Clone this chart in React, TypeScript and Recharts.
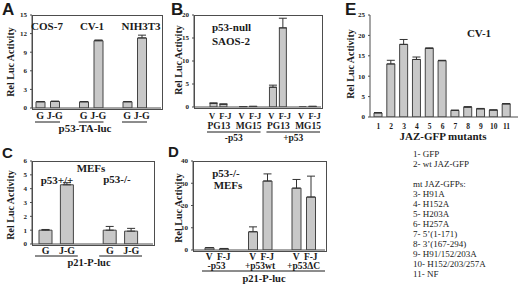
import { BarChart, Bar, XAxis, YAxis, ErrorBar } from 'recharts';

const SERIF = '"Liberation Serif", "Times New Roman", Times, serif';
const SANS = '"Liberation Sans", Arial, sans-serif';
const INK = '#1a1a1a';
const LINE = '#4d4d4d';
const BAR = '#c8c8c8';

// A - p53-TA-luc in three cell lines
const aCats = ['G', 'J-G', '', 'G', 'J-G', '', 'G', 'J-G'];
const aVals = [1.0, 1.05, null, 1.0, 10.85, null, 1.0, 11.3];
const aErrs = [0.05, 0.06, null, 0.04, 0.12, null, 0.05, 0.45];
const aTicks = [0, 3, 6, 9, 12, 15];

// B - SAOS-2, PG13 / MG15 reporters
const bCats = ['V', 'F-J', '', 'V', 'F-J', '', 'V', 'F-J', '', 'V', 'F-J'];
const bReporters = ['PG13', '', '', 'MG15', '', '', 'PG13', '', '', 'MG15', ''];
const bVals = [0.8, 0.6, null, 0.08, 0.12, null, 4.3, 17.2, null, 0.04, 0.12];
const bErrs = [0.08, 0.06, null, 0.02, 0.03, null, 0.45, 2.1, null, null, 0.03];
const bTicks = [0, 5, 10, 15, 20];

// C - MEFs p53+/+ vs p53-/-
const cCats = ['G', 'J-G', '', 'G', 'J-G'];
const cVals = [1.0, 4.28, null, 1.0, 0.93];
const cErrs = [0.05, 0.15, null, 0.27, 0.2];
const cTicks = [0, 1, 2, 3, 4, 5, 6];

// D - p53-/- MEFs, p21-P-luc
const dCats = ['V', 'F-J', '', 'V', 'F-J', '', 'V', 'F-J'];
const dVals = [1.0, 0.6, null, 8.2, 31.0, null, 27.8, 23.8];
const dErrs = [0.1, 0.1, null, 2.2, 3.2, null, 3.9, 9.4];
const dTicks = [0, 10, 20, 30, 40];

// E - JAZ-GFP mutants in CV-1
const eCats = ['1', '2', '3', '4', '5', '6', '7', '8', '9', '10', '11'];
const eVals = [1.0, 13.0, 17.8, 14.1, 16.8, 13.8, 1.6, 2.4, 2.0, 1.7, 3.2];
const eErrs = [0.1, 0.9, 1.2, 0.6, 0.15, 0.1, 0.1, 0.15, 0.1, 0.05, 0.1];
const eTicks = [0, 5, 10, 15, 20, 25];

const legendLines = [
  '1- GFP', '2- wt JAZ-GFP', 'mt JAZ-GFPs:', '3- H91A', '4- H152A', '5- H203A', '6- H257A',
  '7- 5\u2019(1-171)', '8- 3\u2019(167-294)', '9- H91/152/203A', '10- H152/203/257A', '11- NF',
];
const legendY = [157, 167, 187, 197, 207, 217, 227, 237, 247, 257, 267, 277];

type Group = { from: number; to: number; text?: string; textDy?: number; lineDy?: number; extR?: number };
type AxisCfg = {
  labels: string[];
  labelDy: number;
  fontSize: number;
  labelDx?: number[];
  row2?: string[];
  row2Dy?: number;
  groups?: Group[];
  inset?: number;
  band?: number;
};

const rows = (vals: (number | null)[], errs: (number | null)[]) =>
  vals.map((v, i) => ({ k: String(i), v, e: errs[i] == null ? null : [0, errs[i]] }));

function makeTick(cfg: AxisCfg) {
  return (props: any) => {
    const { x, y, payload } = props;
    const i = Number(payload.value);
    const band = cfg.band || 10;
    const txt = { fontFamily: SERIF, fontWeight: 700, fill: INK, textAnchor: 'middle' as const };
    const parts: any[] = [];
    if (cfg.labels[i]) {
      const dx = cfg.labelDx ? cfg.labelDx[i % cfg.labelDx.length] : 0;
      parts.push(<text key="l" x={x + dx} y={y + cfg.labelDy} fontSize={cfg.fontSize} {...txt}>{cfg.labels[i]}</text>);
    }
    if (cfg.row2 && cfg.row2[i]) {
      parts.push(<text key="r2" x={x + band / 2} y={y + (cfg.row2Dy || 0)} fontSize={9.5} {...txt}>{cfg.row2[i]}</text>);
    }
    (cfg.groups || []).forEach((g, gi) => {
      if (g.from !== i) return;
      const ins = cfg.inset || 0;
      const x0 = x - band / 2 + ins;
      const x1 = x + (g.to - g.from) * band + band / 2 - ins + (g.extR || 0);
      if (g.lineDy != null) {
        parts.push(<line key={'g' + gi} x1={x0} x2={x1} y1={y + g.lineDy} y2={y + g.lineDy} stroke={INK} strokeWidth={1} />);
      }
      if (g.text) {
        const cx = x + ((g.to - g.from) * band) / 2;
        parts.push(<text key={'t' + gi} x={cx} y={y + (g.textDy || 0)} fontSize={9.5} {...txt}>{g.text}</text>);
      }
    });
    return <g>{parts}</g>;
  };
}

type PanelProps = {
  left: number; top: number; width: number; height: number;
  margin: { top: number; right: number; bottom: number; left: number };
  yWidth: number; xHeight: number;
  data: any[]; ticks: number[]; barSize: number;
  pad: { left: number; right: number };
  box: boolean; tick: AxisCfg; yFont: number;
};

function Panel(p: PanelProps) {
  const max = p.ticks[p.ticks.length - 1];
  const plotL = p.margin.left + p.yWidth;
  const plotW = p.width - plotL - p.margin.right;
  const plotH = p.height - p.margin.top - p.margin.bottom - p.xHeight;
  const band = (plotW - p.pad.left - p.pad.right) / p.data.length;
  const cfg = { ...p.tick, band };
  return (
    <div style={{ position: 'absolute', left: p.left, top: p.top, width: p.width, height: p.height }}>
      <BarChart width={p.width} height={p.height} data={p.data} margin={p.margin} barCategoryGap={0}>
        <XAxis
          dataKey="k"
          type="category"
          interval={0}
          tickLine={false}
          tickSize={0}
          tickMargin={0}
          height={p.xHeight}
          padding={p.pad}
          axisLine={{ stroke: LINE }}
          tick={makeTick(cfg)}
        />
        <YAxis
          type="number"
          domain={[0, max]}
          ticks={p.ticks}
          interval={0}
          width={p.yWidth}
          tickSize={2}
          tickMargin={3}
          allowDataOverflow
          axisLine={{ stroke: LINE }}
          tickLine={{ stroke: LINE }}
          tick={{ fontSize: p.yFont, fontWeight: 700, fill: INK, fontFamily: SERIF }}
        />
        <Bar dataKey="v" barSize={p.barSize} fill={BAR} stroke="#444" strokeWidth={1} isAnimationActive={false}>
          <ErrorBar dataKey="e" width={4} stroke="#333" strokeWidth={1} />
        </Bar>
      </BarChart>
      {p.box && (
        <div
          style={{
            position: 'absolute',
            left: plotL - 0.5,
            top: p.margin.top - 0.5,
            width: plotW,
            height: plotH,
            border: `1px solid ${LINE}`,
            pointerEvents: 'none',
          }}
        />
      )}
    </div>
  );
}

function T({ x, y, s, children, w = 700, a = 'middle', f = SERIF }: any) {
  return (
    <text x={x} y={y} fontSize={s} fontWeight={w} textAnchor={a} fontFamily={f} fill={INK}>
      {children}
    </text>
  );
}

function YLab({ x, y }: { x: number; y: number }) {
  return (
    <text
      transform={`translate(${x},${y}) rotate(-90)`}
      fontSize={10}
      fontWeight={700}
      textAnchor="middle"
      dominantBaseline="central"
      fontFamily={SERIF}
      fill={INK}
    >
      Rel Luc Activity
    </text>
  );
}

export default function App() {
  return (
    <div style={{ position: 'absolute', left: 0, top: 0, width: 520, height: 288, background: '#fff', overflow: 'hidden' }}>
      <Panel
        left={0} top={0} width={170} height={140}
        margin={{ top: 15, right: 9, bottom: 0, left: 8 }}
        yWidth={24} xHeight={32}
        data={rows(aVals, aErrs)} ticks={aTicks} barSize={9}
        pad={{ left: 1, right: 12 }} box yFont={7}
        tick={{
          labels: aCats, labelDy: 11, fontSize: 10, inset: 2,
          groups: [{ from: 0, to: 1, lineDy: 14 }, { from: 3, to: 4, lineDy: 14 }, { from: 6, to: 7, lineDy: 14 }],
        }}
      />
      <Panel
        left={160} top={0} width={170} height={145}
        margin={{ top: 15, right: 9, bottom: 0, left: 10 }}
        yWidth={24} xHeight={38}
        data={rows(bVals, bErrs)} ticks={bTicks} barSize={7}
        pad={{ left: 15, right: 3 }} box yFont={7}
        tick={{
          labels: bCats, labelDy: 12, fontSize: 8.5, labelDx: [-2, 1.5, 0], row2: bReporters, row2Dy: 22, inset: -2,
          groups: [
            { from: 0, to: 4, text: '-p53', textDy: 34, lineDy: 25 },
            { from: 6, to: 10, text: '+p53', textDy: 34, lineDy: 25 },
          ],
        }}
      />
      <Panel
        left={0} top={150} width={160} height={138}
        margin={{ top: 11, right: 7, bottom: 0, left: 8 }}
        yWidth={24} xHeight={44}
        data={rows(cVals, cErrs)} ticks={cTicks} barSize={13}
        pad={{ left: 3, right: 11 }} box yFont={7}
        tick={{
          labels: cCats, labelDy: 10, fontSize: 10, inset: 0,
          groups: [{ from: 0, to: 1, lineDy: 12 }, { from: 3, to: 4, lineDy: 12 }],
        }}
      />
      <Panel
        left={160} top={150} width={175} height={138}
        margin={{ top: 11, right: 10, bottom: 0, left: 9 }}
        yWidth={24} xHeight={38}
        data={rows(dVals, dErrs)} ticks={dTicks} barSize={9}
        pad={{ left: 9, right: 7 }} box yFont={7}
        tick={{
          labels: dCats, labelDy: 10, fontSize: 9.5, inset: 0,
          groups: [
            { from: 0, to: 1, text: '-p53', textDy: 19 },
            { from: 3, to: 4, text: '+p53wt', textDy: 19 },
            { from: 6, to: 7, text: '+p53\u0394C', textDy: 19 },
            { from: 0, to: 7, lineDy: 21, extR: 7 },
          ],
        }}
      />
      <Panel
        left={335} top={0} width={185} height={145}
        margin={{ top: 15, right: 2, bottom: 0, left: 11 }}
        yWidth={24} xHeight={28}
        data={rows(eVals, eErrs)} ticks={eTicks} barSize={8}
        pad={{ left: 2, right: 5 }} box={false} yFont={7}
        tick={{ labels: eCats, labelDy: 12, fontSize: 7.5 }}
      />

      <svg width={520} height={288} style={{ position: 'absolute', left: 0, top: 0, pointerEvents: 'none' }}>
        <T x={2} y={15} s={17} a="start" f={SANS}>A</T>
        <T x={171} y={15} s={17} a="start" f={SANS}>B</T>
        <T x={2} y={158} s={15} a="start" f={SANS}>C</T>
        <T x={168} y={157} s={15} a="start" f={SANS}>D</T>
        <T x={345} y={15} s={17} a="start" f={SANS}>E</T>

        <YLab x={10} y={62} />
        <YLab x={178} y={60} />
        <YLab x={10} y={205} />
        <YLab x={178} y={208} />
        <YLab x={350} y={64} />

        <T x={47} y={30} s={11}>COS-7</T>
        <T x={92} y={30} s={11}>CV-1</T>
        <T x={141} y={30} s={11}>NIH3T3</T>
        <T x={85} y={132} s={11}>p53-TA-luc</T>

        <T x={212} y={31} s={11} a="start">p53-null</T>
        <T x={212} y={45} s={11} a="start">SAOS-2</T>

        <T x={91} y={172} s={11}>MEFs</T>
        <T x={57} y={184} s={11}>p53+/+</T>
        <T x={117} y={183} s={11}>p53-/-</T>
        <T x={89} y={266} s={10.5}>p21-P-luc</T>

        <T x={226} y={177} s={11}>p53-/-</T>
        <T x={228} y={189} s={11}>MEFs</T>
        <T x={264} y={282} s={10.5}>p21-P-luc</T>

        <T x={479} y={37} s={11}>CV-1</T>
        <T x={443} y={140} s={11}>JAZ-GFP mutants</T>

        {legendLines.map((l, i) => (
          <T key={l} x={413} y={legendY[i]} s={9} w={400} a="start">{l}</T>
        ))}
      </svg>
    </div>
  );
}
